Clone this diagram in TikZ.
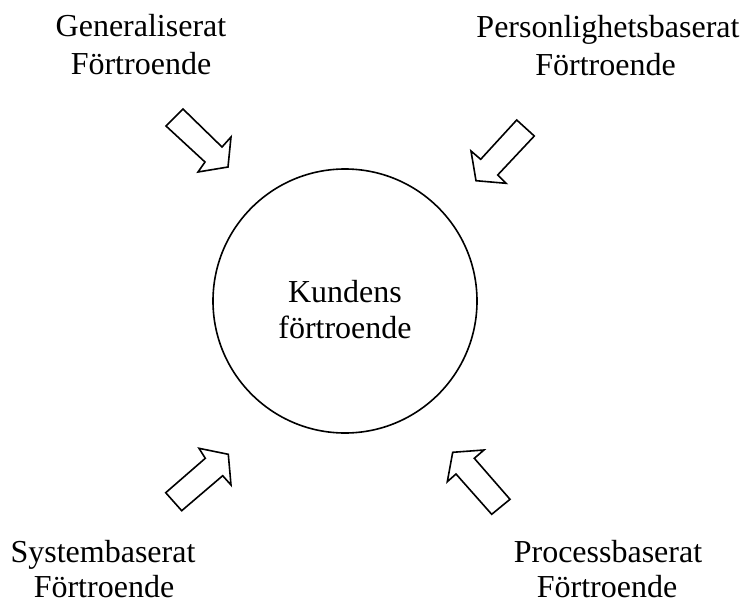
\documentclass[tikz,border=0pt]{standalone}
\usepackage{fontspec}
\setmainfont{Liberation Serif}
\begin{document}
\begin{tikzpicture}[x=1pt,y=-1pt,
  lbl/.style={font=\fontsize{32}{37.5}\selectfont,inner sep=0pt,anchor=base},
  arrowshape/.style={draw=black,line width=1.6pt,line join=miter,fill=white},
  ring/.style={draw=black,line width=1.6pt,circle,minimum size=264pt,inner sep=0pt}]
\useasboundingbox (0,0) rectangle (744,605);
% centre circle
\node[ring] (c) at (345,301) {};
\node[lbl] (ct1) at (345,302.7) {Kundens};
\node[lbl] (ct2) at (345,338.5) {förtroende};
% labels
\node[lbl] (g1) at (141,36.7) {Generaliserat};
\node[lbl] (g2) at (141,74) {Förtroende};
\node[lbl] (p1) at (608,37) {Personlighetsbaserat};
\node[lbl] (p2) at (605.5,75) {Förtroende};
\node[lbl] (s1) at (103,562.5) {Systembaserat};
\node[lbl] (s2) at (104,597.5) {Förtroende};
\node[lbl] (q1) at (608,562.5) {Processbaserat};
\node[lbl] (q2) at (607,597.5) {Förtroende};
% block arrows
\draw[arrowshape] (166,126) -- (183,109) -- (222,147) -- (231,137) -- (228,167)
  -- (198,172) -- (205,162) -- cycle;
\draw[arrowshape] (516.7,120) -- (534.3,136) -- (497.7,175) -- (506,183.3) -- (476,180.7)
  -- (471,151) -- (480.7,159.3) -- cycle;
\draw[arrowshape] (165.7,492.7) -- (181.7,510.7) -- (222.7,475.7) -- (231,485) -- (228.3,454.3)
  -- (199,448.3) -- (205.3,458.3) -- cycle;
\draw[arrowshape] (510,499.3) -- (491.7,514.3) -- (456,474) -- (447.3,481.7) -- (452.7,452.3)
  -- (484,450) -- (474.3,458.3) -- cycle;
\end{tikzpicture}
\end{document}
